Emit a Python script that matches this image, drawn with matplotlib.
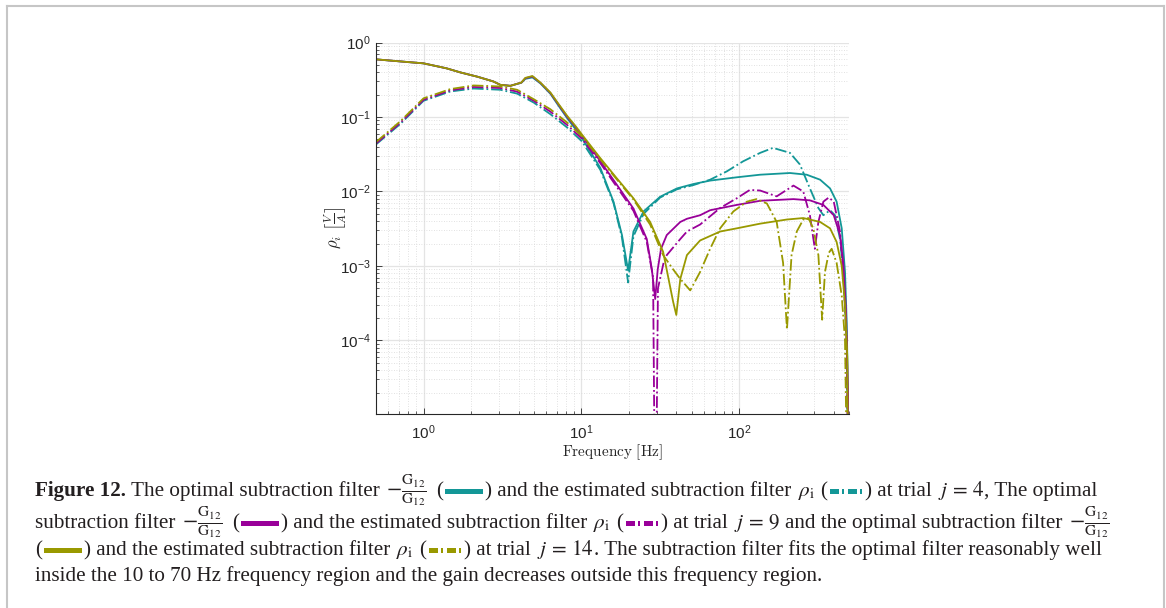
import matplotlib
matplotlib.use("Agg")
import matplotlib.pyplot as plt
from matplotlib.patches import Rectangle
from matplotlib.lines import Line2D
from matplotlib.transforms import IdentityTransform
from matplotlib.ticker import LogLocator, NullFormatter

plt.rcParams['font.family'] = ['Liberation Sans', 'DejaVu Sans']

# values: optimal filter -G12/G12 (solid) and estimated filter rho_i (dash-dot)
# trial j = 4 (teal)
f_opt4 = [0.5, 0.7, 1.0, 1.4, 1.71, 2.2, 2.77, 3.07, 3.55, 4.17, 4.42, 4.9, 5.5, 6.37, 7.2, 8.15, 9.17, 10.1,
          13.2, 16.0, 18.1, 19.8, 21.4, 24.8, 31.6, 40.4, 51.4, 65.5, 96.6, 136, 210, 268, 326, 377, 415, 447,
          469, 481, 492, 500]
rho_opt4 = [0.594, 0.559, 0.525, 0.45, 0.397, 0.347, 0.30, 0.27, 0.262, 0.288, 0.325, 0.34, 0.283, 0.205, 0.14,
            0.096, 0.069, 0.052, 0.0207, 0.0073, 0.0026, 0.00087, 0.0029, 0.0054, 0.0085, 0.011, 0.0126, 0.014,
            0.0155, 0.0168, 0.0177, 0.0168, 0.0144, 0.011, 0.0073, 0.0032, 0.00083, 0.00017, 1e-5, 1e-8]
f_est4 = [0.5, 0.715, 1.0, 1.48, 2.08, 3.07, 3.92, 5.0, 6.37, 8.15, 10.1, 13.2, 16.0, 18.1, 19.8, 21.4, 24.8,
          31.6, 40.4, 51.4, 65.5, 83.5, 106, 136, 164, 210, 243, 281, 318, 342, 377, 405, 436, 457, 481, 500]
rho_est4 = [0.0428, 0.081, 0.165, 0.22, 0.241, 0.232, 0.206, 0.156, 0.109, 0.072, 0.047, 0.0195, 0.007, 0.0024,
            0.0006, 0.0025, 0.005, 0.0083, 0.0107, 0.0122, 0.0144, 0.0186, 0.0254, 0.033, 0.0385, 0.033, 0.023,
            0.011, 0.006, 0.0048, 0.0056, 0.0048, 0.0023, 0.00083, 0.0001, 1e-8]

# trial j = 9 (purple)
f_opt9 = [0.5, 0.7, 1.0, 1.4, 1.71, 2.2, 2.77, 3.07, 3.55, 4.17, 4.42, 4.9, 5.5, 6.37, 7.2, 8.15, 9.17, 10.1,
          13.2, 16.8, 21.4, 26.0, 28.0, 29.4, 30.5, 32.0, 34.8, 42.4, 46.7, 56.6, 65.5, 96.6, 136, 221, 281, 342,
          398, 436, 457, 475, 494, 500]
rho_opt9 = [0.594, 0.559, 0.525, 0.45, 0.397, 0.347, 0.30, 0.27, 0.262, 0.29, 0.332, 0.35, 0.288, 0.21, 0.145,
            0.1, 0.074, 0.056, 0.0255, 0.0123, 0.0059, 0.0023, 0.0009, 0.00036, 0.0009, 0.0017, 0.0026, 0.0039,
            0.0043, 0.0048, 0.0056, 0.0066, 0.0075, 0.0079, 0.0076, 0.0066, 0.0048, 0.0026, 0.0011, 0.00026,
            1e-5, 1e-8]
f_est9 = [0.5, 0.715, 1.0, 1.48, 2.08, 3.07, 3.92, 5.0, 6.37, 8.15, 10.1, 13.2, 16.8, 21.4, 26.0, 28.5, 29.5,
          30.6, 33.2, 34.8, 42.4, 46.7, 56.6, 75.8, 96.6, 117, 136, 173, 221, 255, 281, 302, 318, 342, 370, 398,
          436, 457, 481, 500]
rho_est9 = [0.044, 0.084, 0.17, 0.228, 0.253, 0.245, 0.219, 0.165, 0.118, 0.078, 0.051, 0.024, 0.0115, 0.0055,
            0.0021, 0.0007, 1e-7, 0.0005, 0.0011, 0.0014, 0.0023, 0.0029, 0.0036, 0.006, 0.0081, 0.0105, 0.0103,
            0.0086, 0.012, 0.01, 0.0048, 0.0017, 0.0039, 0.0073, 0.0083, 0.0073, 0.0029, 0.00083, 0.0001, 1e-8]

# trial j = 14 (olive)
f_opt14 = [0.5, 0.7, 1.0, 1.4, 1.71, 2.2, 2.77, 3.07, 3.55, 4.17, 4.42, 4.9, 5.5, 6.37, 7.2, 8.15, 9.17, 10.1,
           13.2, 16.8, 21.4, 27.3, 33, 38.2, 40, 42.4, 46.7, 56.6, 75.8, 96.6, 136, 200, 255, 326, 377, 415, 447,
           469, 485, 500]
rho_opt14 = [0.594, 0.559, 0.525, 0.45, 0.397, 0.347, 0.30, 0.27, 0.262, 0.29, 0.335, 0.355, 0.29, 0.213, 0.148,
             0.103, 0.076, 0.058, 0.028, 0.015, 0.0081, 0.0039, 0.00155, 0.00033, 0.00022, 0.00067, 0.0014,
             0.0022, 0.0029, 0.0032, 0.0037, 0.0042, 0.0044, 0.0039, 0.0032, 0.0021, 0.0010, 0.0003, 6e-5, 1e-8]
f_est14 = [0.5, 0.715, 1.0, 1.48, 2.08, 3.07, 3.92, 5.0, 6.37, 8.15, 10.1, 13.2, 16.8, 21.4, 27.3, 33, 38.2,
           42.4, 49, 56.6, 65.5, 75.8, 92, 112, 129, 150, 173, 190, 201, 215, 232, 255, 275, 295, 318, 336, 350,
           370, 386, 415, 447, 469, 500]
rho_est14 = [0.046, 0.088, 0.178, 0.237, 0.265, 0.257, 0.232, 0.173, 0.127, 0.084, 0.055, 0.027, 0.0145, 0.0078,
             0.0036, 0.0014, 0.0009, 0.00067, 0.00047, 0.00083, 0.0017, 0.0032, 0.0054, 0.0073, 0.0079, 0.0069,
             0.0039, 0.0011, 0.00014, 0.0014, 0.0029, 0.0042, 0.0044, 0.0032, 0.0014, 0.00019, 0.00083, 0.0015,
             0.0017, 0.0011, 0.0004, 0.0001, 1e-8]

C4, C9, C14 = '#139797', '#990099', '#999900'

W, H = 1166, 608
fig = plt.figure(figsize=(W / 100, H / 100), dpi=100)
fig.patch.set_facecolor('white')
ax = fig.add_axes([376 / W, 1 - 414 / H, 473.4 / W, 371.5 / H])

for f, r, c, ls in [(f_opt4, rho_opt4, C4, '-'), (f_est4, rho_est4, C4, '-.'),
                    (f_opt9, rho_opt9, C9, '-'), (f_est9, rho_est9, C9, '-.'),
                    (f_opt14, rho_opt14, C14, '-'), (f_est14, rho_est14, C14, '-.')]:
    ax.loglog(f, r, color=c, ls=ls, lw=1.3)

ax.set_xlim(0.5, 500)
ax.set_ylim(1.03e-5, 1)
ax.set_xticks([1, 10, 100])
ax.set_yticks([1e-4, 1e-3, 1e-2, 1e-1, 1])
ax.xaxis.set_minor_locator(LogLocator(base=10, subs=range(2, 10), numticks=20))
ax.yaxis.set_minor_locator(LogLocator(base=10, subs=range(2, 10), numticks=20))
ax.xaxis.set_minor_formatter(NullFormatter())
ax.yaxis.set_minor_formatter(NullFormatter())

ax.grid(True, which='major', color='#e4e4e4', lw=0.9, ls='-')
ax.grid(True, which='minor', color='#d8d8d8', lw=0.6, ls=(0, (1, 2)))
ax.set_axisbelow(True)
for s in ['top', 'right']:
    ax.spines[s].set_visible(False)
for s in ['left', 'bottom']:
    ax.spines[s].set_color('#262626')
    ax.spines[s].set_linewidth(0.8)
ax.tick_params(which='major', direction='in', length=4, width=0.6, colors='#262626',
               labelsize=11, pad=4, top=False, right=False)
ax.tick_params(axis='x', which='major', pad=7)
ax.tick_params(which='minor', direction='in', length=2.5, width=0.5, colors='#262626',
               top=False, right=False)

ax.set_xlabel(r'$\mathrm{Frequency\ [Hz]}$', fontsize=11, math_fontfamily='cm', color='#262626', labelpad=0)
ax.set_ylabel(r'$\rho_i\ \left[\frac{V}{A}\right]$', fontsize=12, math_fontfamily='cm', color='#262626')
ax.yaxis.set_label_coords(-0.058, 0.5)

# page frame
for xs, ys in [([7, 7], [0, H - 6]), ([7, 1164], [H - 6, H - 6]), ([1164, 1164], [0, H - 6])]:
    fig.add_artist(Line2D(xs, ys, transform=IdentityTransform(), color='#c6c6c6', lw=1.5))

# caption
rend = fig.canvas.get_renderer()
cap_font = 'Liberation Serif'
cap_color = '#231f20'


def width(s, **kw):
    t = fig.text(0, 0, s, transform=IdentityTransform(), **kw)
    w = t.get_window_extent(rend).width
    t.remove()
    return w


def adv(s, **kw):
    return width('|' + s + '|', **kw) - width('||', **kw)


line4 = 'inside the 10 to 70 Hz frequency region and the gain decreases outside this frequency region.'
cap_size = 10 * 786 / adv(line4, fontfamily=cap_font, fontsize=10)

FRAC = r'$-\frac{\mathrm{G}_{12}}{\mathrm{G}_{12}}$'
RHO = r'$\rho_{\mathrm{i}}$'

lines = [
    [('b', 'Figure 12.'), ('t', ' The optimal subtraction filter '), ('f', FRAC), ('t', ' ('), ('solid', C4),
     ('t', ') and the estimated subtraction filter '), ('m', RHO), ('t', ' ('), ('dd', C4), ('t', ') at trial '),
     ('m', r'$j\,=\,4$'), ('t', ', The optimal')],
    [('t', 'subtraction filter '), ('f', FRAC), ('t', ' ('), ('solid', C9),
     ('t', ') and the estimated subtraction filter '), ('m', RHO), ('t', ' ('), ('dd', C9), ('t', ') at trial '),
     ('m', r'$j\,=\,9$'), ('t', ' and the optimal subtraction filter '), ('f', FRAC)],
    [('t', '('), ('solid', C14), ('t', ') and the estimated subtraction filter '), ('m', RHO), ('t', ' ('),
     ('dd', C14), ('t', ') at trial '), ('m', r'$j\,=\,14$'),
     ('t', '. The subtraction filter fits the optimal filter reasonably well')],
    [('t', line4)],
]
baselines = [496, 528, 555, 581]

for segs, yt in zip(lines, baselines):
    x = 35
    yb = H - yt
    for kind, s in segs:
        if kind in ('t', 'b'):
            kw = dict(fontfamily=cap_font, fontsize=cap_size, fontweight='bold' if kind == 'b' else 'normal')
            lead = len(s) - len(s.lstrip(' '))
            xd = x + (adv(' ' * lead, **kw) if lead else 0)
            fig.text(xd, yb, s.lstrip(' '), transform=IdentityTransform(), va='baseline', ha='left',
                     color=cap_color, **kw)
            x += adv(s, **kw)
        elif kind in ('m', 'f'):
            size = cap_size * (1.05 if kind == 'f' else 1.0)
            t = fig.text(x + 1, yb, s, transform=IdentityTransform(), va='baseline', ha='left', color=cap_color,
                         fontsize=size, math_fontfamily='stix')
            x += t.get_window_extent(rend).width + (6 if kind == 'f' else 1)
        elif kind == 'solid':
            fig.add_artist(Rectangle((x + 2, yb + 2.5), 38, 5, transform=IdentityTransform(), color=s, lw=0))
            x += 42
        elif kind == 'dd':
            for dx, dw in [(3, 9), (15, 2), (21, 9), (33, 2)]:
                fig.add_artist(Rectangle((x + dx, yb + 2.5), dw, 5, transform=IdentityTransform(),
                                         color=s, lw=0))
            x += 38

fig.savefig('out.png', dpi=100, facecolor='white')
